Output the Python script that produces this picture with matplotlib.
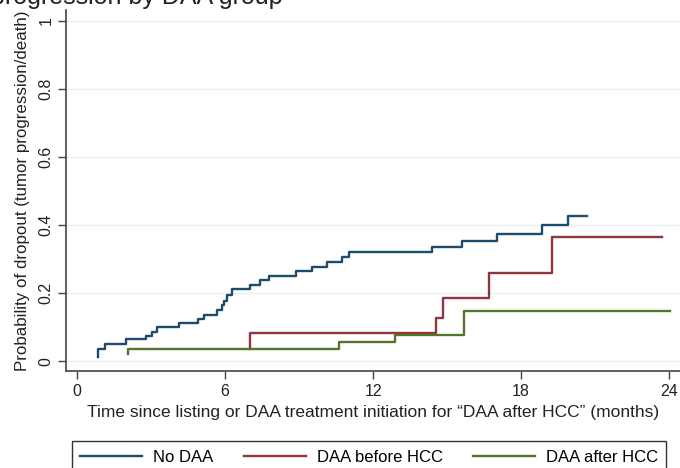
import numpy as np
import matplotlib.pyplot as plt

plt.rcParams['font.family'] = ['Liberation Sans', 'DejaVu Sans']
plt.rcParams['font.size'] = 11.5

# cumulative incidence of dropout, step functions (months, probability)
t_no = [0.84, 0.84, 1.13, 1.97, 2.80, 3.03, 3.23, 4.13, 4.92, 5.15, 5.66, 5.86, 5.96, 6.07,
        6.30, 7.01, 7.42, 7.80, 8.88, 9.54, 10.12, 10.73, 11.04, 14.38, 15.62, 17.04, 18.84,
        19.89, 20.66]
p_no = [0.013, 0.035, 0.051, 0.065, 0.074, 0.085, 0.099, 0.111, 0.124, 0.137, 0.150, 0.164,
        0.177, 0.194, 0.211, 0.224, 0.237, 0.250, 0.264, 0.277, 0.291, 0.305, 0.321, 0.336,
        0.354, 0.375, 0.400, 0.426, 0.426]

t_before = [7.01, 7.01, 14.55, 14.85, 16.70, 19.25, 23.70]
p_before = [0.036, 0.083, 0.128, 0.187, 0.258, 0.366, 0.366]

t_after = [2.05, 2.05, 10.60, 12.89, 15.69, 24.04]
p_after = [0.020, 0.036, 0.057, 0.077, 0.147, 0.147]

labels = ['No DAA', 'DAA before HCC', 'DAA after HCC']
colors = ['#1d4c6c', '#90353b', '#55752f']
xticks = [0, 6, 12, 18, 24]
yticks = [0, 0.2, 0.4, 0.6, 0.8, 1]

fig = plt.figure(figsize=(6.8, 4.68), dpi=100)
ax = fig.add_axes([66/680, 97/468, 614/680, 361/468])

for y in yticks:
    ax.axhline(y, color='#eaf2f3', lw=1, zorder=0)

lines = []
for t, p, c, lab in zip([t_no, t_before, t_after], [p_no, p_before, p_after], colors, labels):
    ln, = ax.step(t, p, where='post', color=c, lw=1.7, label=lab)
    lines.append(ln)

ax.set_xlim(-0.446, 24.44)
ax.set_ylim(-0.029, 1.032)
ax.set_xticks(xticks)
ax.set_yticks(yticks)
ax.set_yticklabels(['0', '0.2', '0.4', '0.6', '0.8', '1'], rotation=90, va='center')
for s in ['top', 'right']:
    ax.spines[s].set_visible(False)
for s in ['left', 'bottom']:
    ax.spines[s].set_color('#444444')
    ax.spines[s].set_linewidth(1.2)
ax.tick_params(length=6, color='#444444', width=1, colors='#222222', labelcolor='#222222')
ax.tick_params(axis='y', pad=3)

ax.set_xlabel('Time since listing or DAA treatment initiation for \u201cDAA after HCC\u201d (months)',
              color='#222222', labelpad=4, fontsize=12.5)
ax.set_ylabel('Probability of dropout (tumor progression/death)', color='#222222',
              labelpad=6, fontsize=12.2)

# title is cropped at the top edge in the original figure
fig.text(283/680, 1 - 4/468, 'progression by DAA group', ha='right', va='baseline',
         fontsize=18, color='#222222')

leg = fig.legend(handles=lines, loc='upper left', ncol=3,
                 bbox_to_anchor=(71.7/680, 1 - 441/468),
                 handlelength=3.72, handletextpad=0.66, columnspacing=1.8, borderpad=0.52,
                 fancybox=False, edgecolor='#333333', framealpha=1,
                 borderaxespad=0, fontsize=12)
leg.get_frame().set_linewidth(1.0)

fig.savefig('out.png', dpi=100)
